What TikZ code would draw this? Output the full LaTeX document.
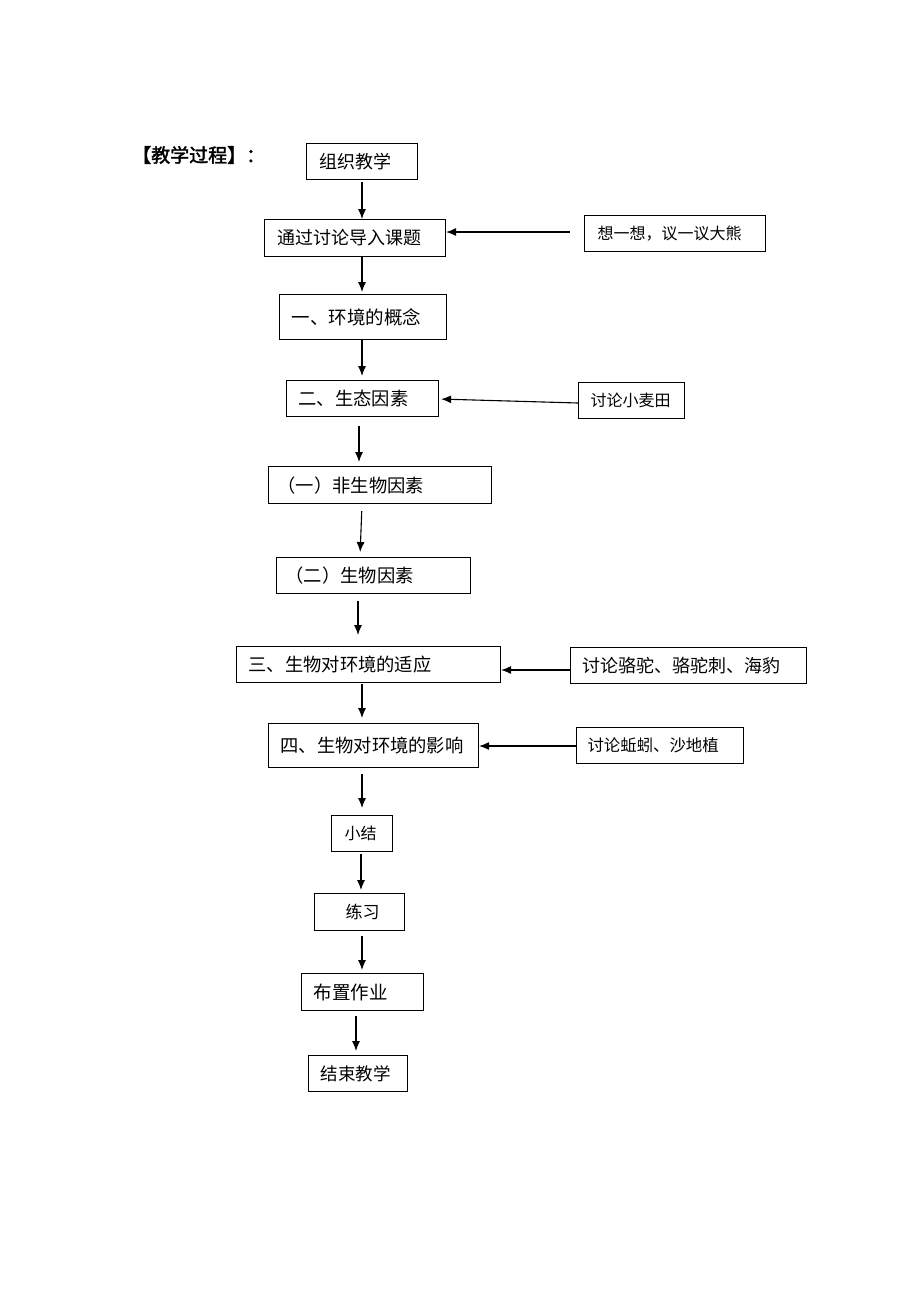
\documentclass[tikz,border=0pt]{standalone}
\usepackage{fontspec}
\setmainfont{Noto Sans CJK SC}
\newfontfamily\cjkbold{Noto Sans CJK SC}[FakeBold=2]
\usetikzlibrary{arrows.meta}
\newcommand{\fs}[1]{\fontsize{#1}{#1}\selectfont}
\tikzset{
  box/.style={draw, line width=1.1pt, anchor=north west, inner xsep=0pt, inner ysep=0pt, align=left},
  arr/.style={line width=1.1pt, -{Latex[length=10pt,width=8pt]}}
}
\begin{document}
\begin{tikzpicture}[x=1pt,y=-1pt]
\useasboundingbox[fill=white] (0,0) rectangle (920,1302);
\node[anchor=west, inner sep=0pt, font=\cjkbold\fs{19}] (title) at (132,155) {【教学过程】：};
% main column
\node[box, text width=111pt, minimum height=36pt, font=\fs{18}] (n1) at (306,143) {\hspace*{13pt}组织教学};
\node[box, text width=181pt, minimum height=37pt, font=\fs{18}] (n2) at (264,219) {\hspace*{13pt}通过讨论导入课题};
\node[box, text width=181pt, minimum height=36pt, font=\fs{16}] (n3) at (584,215) {\hspace*{13pt}想一想，议一议大熊};
\node[box, text width=167pt, minimum height=45pt, font=\fs{18.5}] (n4) at (279,294) {\hspace*{12pt}一、环境的概念};
\node[box, text width=152pt, minimum height=36pt, font=\fs{18.3}] (n5) at (286,380) {\hspace*{12pt}二、生态因素};
\node[box, text width=106pt, minimum height=36pt, font=\fs{16}] (n6) at (578,382) {\hspace*{12pt}讨论小麦田};
\node[box, text width=223pt, minimum height=37pt, font=\fs{18.3}] (n7) at (268,466) {\hspace*{9pt}（一）非生物因素};
\node[box, text width=194pt, minimum height=36pt, font=\fs{18.3}] (n8) at (276,557) {\hspace*{9pt}（二）生物因素};
\node[box, text width=264pt, minimum height=36pt, font=\fs{18.3}] (n9) at (236,646) {\hspace*{12pt}三、生物对环境的适应};
\node[box, text width=236pt, minimum height=36pt, font=\fs{18}] (n10) at (570,647) {\hspace*{12pt}讨论骆驼、骆驼刺、海豹};
\node[box, text width=210pt, minimum height=44pt, font=\fs{18.3}] (n11) at (268,723) {\hspace*{12pt}四、生物对环境的影响};
\node[box, text width=167pt, minimum height=36pt, font=\fs{16.4}] (n12) at (576,727) {\hspace*{11pt}讨论蚯蚓、沙地植};
\node[box, text width=61pt, minimum height=36pt, font=\fs{16}] (n13) at (331,815) {\hspace*{13pt}小结};
\node[box, text width=90pt, minimum height=37pt, font=\fs{17}] (n14) at (314,893) {\hspace*{31pt}练习};
\node[box, text width=122pt, minimum height=37pt, font=\fs{18.5}] (n15) at (301,973) {\hspace*{12pt}布置作业};
\node[box, text width=99pt, minimum height=36pt, font=\fs{17.5}] (n16) at (308,1055) {\hspace*{12pt}结束教学};
% vertical arrows
\draw[arr, shorten <=2pt] (n1.south -| 362,0) -- (n2.north -| 362,0);
\draw[arr, shorten >=2pt] (n2.south -| 362,0) -- (n4.north -| 362,0);
\draw[arr, shorten >=4pt] (n4.south -| 362,0) -- (n5.north -| 362,0);
\draw[arr, shorten <=9pt, shorten >=4pt] (n5.south -| 359,0) -- (n7.north -| 359,0);
\draw[arr, shorten <=7pt, shorten >=5pt] (n7.south -| 362,0) -- (n8.north -| 360,0);
\draw[arr, shorten <=7pt, shorten >=11pt] (n8.south -| 358,0) -- (n9.north -| 358,0);
\draw[arr, shorten <=1pt, shorten >=5pt] (n9.south -| 362,0) -- (n11.north -| 362,0);
\draw[arr, shorten <=6pt, shorten >=7pt] (n11.south -| 362,0) -- (n13.north -| 362,0);
\draw[arr, shorten <=2pt, shorten >=3pt] (n13.south -| 361,0) -- (n14.north -| 361,0);
\draw[arr, shorten <=5pt, shorten >=3pt] (n14.south -| 362,0) -- (n15.north -| 362,0);
\draw[arr, shorten <=5pt, shorten >=4pt] (n15.south -| 356,0) -- (n16.north -| 356,0);
% horizontal arrows
\draw[arr, shorten <=14pt] (n3.west |- 0,232) -- (n2.east |- 0,232);
\draw[arr, shorten >=2pt] (n6.west |- 0,403) -- (n5.east |- 0,399);
\draw[arr] (n10.west |- 0,670) -- (n9.east |- 0,670);
\draw[arr] (n12.west |- 0,746) -- (n11.east |- 0,746);
\end{tikzpicture}
\end{document}
